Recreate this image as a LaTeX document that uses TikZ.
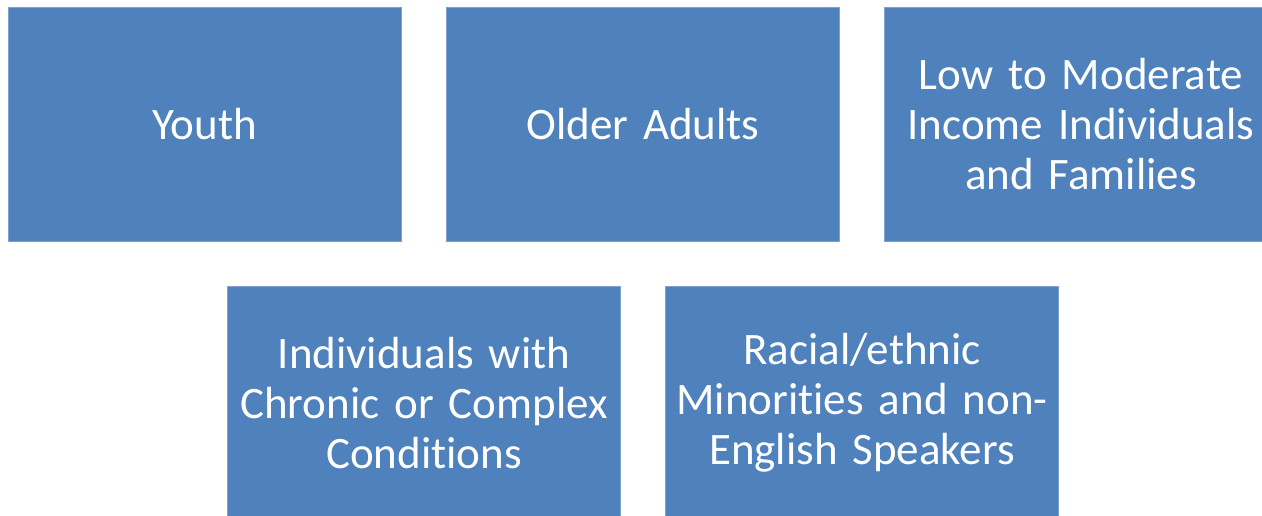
\documentclass[tikz,border=0pt]{standalone}
\usepackage{fontspec}
\setmainfont{Carlito}[Ligatures={NoCommon}, WordSpace=0.65]
\definecolor{boxblue}{HTML}{4F81BD}
\definecolor{boxedge}{HTML}{7FA2D0}
\begin{document}
\begin{tikzpicture}[x=1pt,y=-1pt,
  box/.style={fill=boxblue, draw=boxedge, line width=0.8pt,
    minimum width=393pt, minimum height=233.5pt, inner sep=0pt,
    align=center, text=white, text width=390pt,
    font=\fontsize{45}{50}\selectfont}]
\useasboundingbox (0,0) rectangle (1262,515);
\clip (0,0) rectangle (1262,515);
\node[box] (youth) at (204.5,124.5) {Youth};
\node[box] (older) at (643,124.5) {Older Adults};
\node[box] (income) at (1081,124.5) {Low to Moderate\\Income Individuals\\and Families};
\node[box] (chronic) at (424,402.75) {Individuals with\\Chronic or Complex\\Conditions};
\node[box] (racial) at (862,402.75) {Racial/ethnic\\Minorities and non-\\English Speakers};
\end{tikzpicture}
\end{document}
